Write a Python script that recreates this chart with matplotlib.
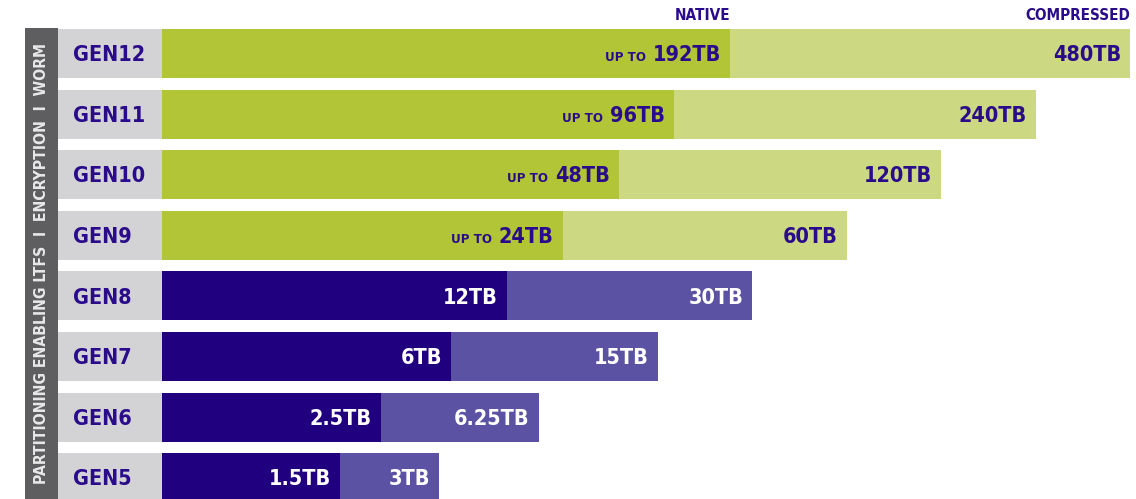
import matplotlib
matplotlib.use('Agg')
import matplotlib.pyplot as plt
from matplotlib import font_manager

# LTO generations, newest first
gens = ['GEN12', 'GEN11', 'GEN10', 'GEN9', 'GEN8', 'GEN7', 'GEN6', 'GEN5']
native_tb = [192, 96, 48, 24, 12, 6, 2.5, 1.5]
compressed_tb = [480, 240, 120, 60, 30, 15, 6.25, 3]
native_labels = ['192TB', '96TB', '48TB', '24TB', '12TB', '6TB', '2.5TB', '1.5TB']
compressed_labels = ['480TB', '240TB', '120TB', '60TB', '30TB', '15TB', '6.25TB', '3TB']
up_to = [True, True, True, True, False, False, False, False]
features = 'PARTITIONING ENABLING LTFS  I  ENCRYPTION  I  WORM'

GREEN, GREEN_LT = '#b2c536', '#ccd982'
PURPLE, PURPLE_LT = '#210080', '#5b52a3'
INK = '#2a0c8a'
CELL = '#d3d3d6'
STRIP = '#5e5e61'

names = {f.name for f in font_manager.fontManager.ttflist}
if 'Liberation Sans Narrow' in names:
    FONT = dict(family='Liberation Sans Narrow', weight='bold')
else:
    FONT = dict(family='DejaVu Sans', stretch='condensed', weight='bold')

W, H = 1136, 499
fig = plt.figure(figsize=(W / 100, H / 100), dpi=100)


def px_axes(x0, x1, y0, y1):
    # axes box given in pixels, measured from the top left
    return fig.add_axes([x0 / W, 1 - y1 / H, (x1 - x0) / W, (y1 - y0) / H])


rows = list(range(len(gens)))
ylim = (7.351, -0.883)
bar_h = 0.81

# compressed bars underneath, native bars on a twin axis above
ax_c = px_axes(162, 1136, 0, 499)
ax_n = ax_c.twiny()
for ax, lim in ((ax_c, (0.393, 501.6)), (ax_n, (0.164, 30000))):
    ax.set_xscale('log')
    ax.set_xlim(*lim)
    ax.set_ylim(*ylim)
    ax.set_axis_off()

newer = [int(g[3:]) >= 9 for g in gens]
c_lo = ax_c.get_xlim()[0]
n_lo = ax_n.get_xlim()[0]
ax_c.barh(rows, [v - c_lo for v in compressed_tb], left=c_lo, height=bar_h,
          color=[GREEN_LT if n else PURPLE_LT for n in newer], linewidth=0)
ax_n.barh(rows, [v - n_lo for v in native_tb], left=n_lo, height=bar_h,
          color=[GREEN if n else PURPLE for n in newer], linewidth=0)

big = 15.5
for i in rows:
    col = INK if newer[i] else 'white'
    t = ax_n.annotate(native_labels[i], xy=(native_tb[i], i), xytext=(-9, -big / 2),
                      textcoords='offset pixels', ha='right', va='baseline',
                      fontsize=big, color=col, **FONT)
    if up_to[i]:
        ax_n.annotate('UP TO', xy=(0, i), xycoords=(t, 'data'), xytext=(-7, -big / 2),
                      textcoords='offset pixels', ha='right', va='baseline',
                      fontsize=9.5, color=col, **FONT)
    ax_c.annotate(compressed_labels[i], xy=(compressed_tb[i], i), xytext=(-9, -big / 2),
                  textcoords='offset pixels', ha='right', va='baseline',
                  fontsize=big, color=col, **FONT)

ax_n.annotate('NATIVE', xy=(native_tb[0], 0), xytext=(0, 38), textcoords='offset pixels',
              ha='right', va='center', fontsize=11, color=INK, **FONT)
ax_c.annotate('COMPRESSED', xy=(compressed_tb[0], 0), xytext=(0, 38), textcoords='offset pixels',
              ha='right', va='center', fontsize=11, color=INK, **FONT)

# generation name cells
ax_g = px_axes(58, 162, 0, 499)
ax_g.barh(rows, 1, height=bar_h, color=CELL, linewidth=0)
ax_g.set_xlim(0, 1)
ax_g.set_ylim(*ylim)
ax_g.set_axis_off()
for i, g in enumerate(gens):
    ax_g.annotate(g, xy=(0, i), xytext=(15, -big / 2), textcoords='offset pixels',
                  ha='left', va='baseline', fontsize=big, color=INK, **FONT)

# feature strip down the left side
ax_s = px_axes(25, 58, 28, 499)
ax_s.set_facecolor(STRIP)
ax_s.set_xticks([])
ax_s.set_yticks([])
for sp in ax_s.spines.values():
    sp.set_visible(False)
ax_s.text(0.5, 0.5, features, transform=ax_s.transAxes, rotation=90,
          ha='center', va='center', fontsize=11.3, color='#e8e8e8', **FONT)

fig.savefig('out.png', dpi=100)
